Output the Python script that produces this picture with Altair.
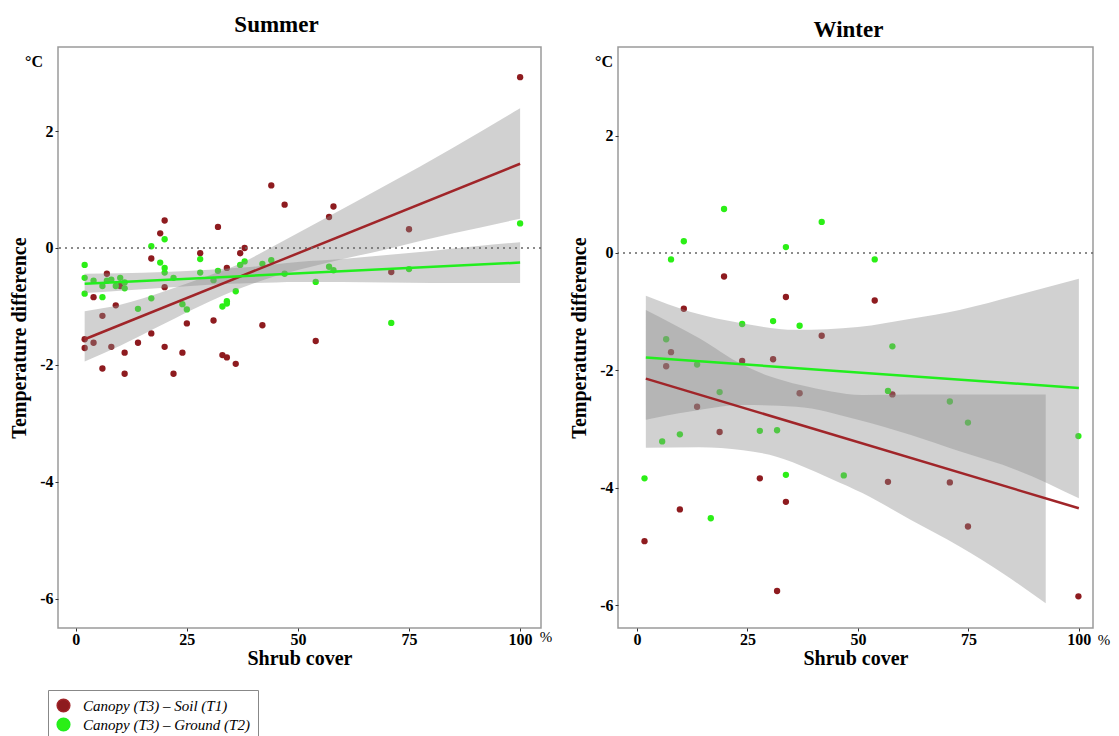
import altair as alt
import pandas as pd

SERIES = ["Canopy (T3) – Soil (T1)", "Canopy (T3) – Ground (T2)"]
POINT_COLORS = ["#8e1b1f", "#2bef16"]
LINE_COLORS = ["#a02529", "#22ee1e"]
X_TICKS = [0, 25, 50, 75, 100]
Y_TICKS = [-6, -4, -2, 0, 2]

# ---------------- Summer ----------------
sum_soil_x = [47, 44, 20, 19, 32, 28, 38, 37, 7, 34, 17, 20, 4, 10, 9, 6, 2, 2, 4, 8,
              6, 11, 11, 14, 17, 20, 22, 24, 25, 31, 33, 34, 36, 42, 54, 58, 57, 75, 71, 100]
sum_soil_y = [0.74, 1.07, 0.47, 0.25, 0.36, -0.09, 0.00, -0.09, -0.44, -0.34, -0.18, -0.67, -0.84,
              -0.65, -0.98, -1.16, -1.56, -1.71, -1.62, -1.69, -2.06, -1.79, -2.15, -1.62, -1.46,
              -1.69, -2.15, -1.79, -1.29, -1.24, -1.83, -1.87, -1.98, -1.32, -1.59, 0.71, 0.53,
              0.32, -0.41, 2.92]
sum_ground_x = [2, 2, 2, 4, 6, 6, 7, 8, 9, 10, 11, 11, 14, 17, 17, 19, 20, 20, 20, 22, 24, 25,
                28, 28, 31, 32, 33, 34, 34, 36, 37, 38, 42, 44, 47, 54, 57, 58, 71, 75, 100]
sum_ground_y = [-0.29, -0.51, -0.78, -0.56, -0.65, -0.84, -0.56, -0.54, -0.65, -0.51, -0.59, -0.69,
                -1.04, -0.86, 0.03, -0.25, 0.15, -0.34, -0.42, -0.51, -0.96, -1.05, -0.19, -0.42,
                -0.55, -0.39, -1.00, -0.91, -0.95, -0.74, -0.29, -0.23, -0.27, -0.21, -0.44, -0.58,
                -0.32, -0.38, -1.28, -0.36, 0.42]

sum_line_x = [2, 100]
sum_soil_line = [-1.56, 1.44]
sum_ground_line = [-0.61, -0.25]

sum_soil_rib_x = [2, 10, 20, 30, 36, 45, 55, 70, 85, 100]
sum_soil_rib_lo = [-1.94, -1.67, -1.29, -0.92, -0.72, -0.48, -0.28, -0.02, 0.25, 0.50]
sum_soil_rib_hi = [-1.08, -0.97, -0.74, -0.47, -0.30, 0.05, 0.46, 1.08, 1.72, 2.39]
sum_ground_rib_x = [2, 10, 20, 30, 40, 50, 60, 70, 80, 90, 100]
sum_ground_rib_lo = [-0.77, -0.73, -0.68, -0.63, -0.60, -0.58, -0.58, -0.59, -0.60, -0.60, -0.60]
sum_ground_rib_hi = [-0.44, -0.43, -0.41, -0.37, -0.32, -0.24, -0.19, -0.12, -0.05, 0.03, 0.10]

# ---------------- Winter ----------------
win_soil_x = [19.7, 33.7, 10.6, 41.8, 7.7, 6.6, 23.8, 30.8, 13.6, 36.8, 18.7, 27.8, 33.7, 9.7,
              1.7, 31.7, 53.8, 57.8, 56.8, 70.8, 74.9, 99.9]
win_soil_y = [-0.40, -0.75, -0.95, -1.41, -1.69, -1.93, -1.84, -1.81, -2.62, -2.39, -3.05, -3.84,
              -4.24, -4.37, -4.91, -5.76, -0.81, -2.41, -3.90, -3.91, -4.66, -5.85]
win_ground_x = [19.7, 10.6, 7.7, 33.7, 41.8, 23.8, 30.8, 36.8, 6.6, 13.6, 18.7, 9.7, 5.7, 27.8,
                31.7, 1.7, 33.7, 46.8, 16.7, 53.8, 57.8, 56.8, 70.8, 74.9, 99.9]
win_ground_y = [0.75, 0.20, -0.11, 0.10, 0.53, -1.21, -1.16, -1.24, -1.47, -1.90, -2.37, -3.09,
                -3.21, -3.03, -3.02, -3.84, -3.78, -3.79, -4.52, -0.11, -1.59, -2.35, -2.53,
                -2.89, -3.12]

win_line_x = [2, 100]
win_soil_line = [-2.14, -4.35]
win_ground_line = [-1.78, -2.30]

win_soil_rib_x = [2, 14, 24, 30, 37, 44, 51, 62, 73, 83, 92.5]
win_soil_rib_lo = [-3.32, -3.31, -3.36, -3.44, -3.62, -3.85, -4.09, -4.55, -5.00, -5.47, -5.97]
win_soil_rib_hi = [-0.97, -1.45, -1.91, -2.10, -2.25, -2.36, -2.42, -2.41, -2.41, -2.41, -2.41]
win_ground_rib_x = [2, 12, 24, 36, 50, 62, 73, 86, 100]
win_ground_rib_lo = [-2.84, -2.70, -2.59, -2.62, -2.84, -3.10, -3.38, -3.70, -4.18]
win_ground_rib_hi = [-0.73, -1.00, -1.20, -1.31, -1.26, -1.12, -0.97, -0.72, -0.44]

SERIF = "Liberation Serif"


def pts_df(sx, sy, gx, gy):
    return pd.concat([
        pd.DataFrame({"x": sx, "y": sy, "series": SERIES[0]}),
        pd.DataFrame({"x": gx, "y": gy, "series": SERIES[1]}),
    ])


def rib_df(sx, slo, shi, gx, glo, ghi):
    return pd.concat([
        pd.DataFrame({"x": sx, "lo": slo, "hi": shi, "series": SERIES[0]}),
        pd.DataFrame({"x": gx, "lo": glo, "hi": ghi, "series": SERIES[1]}),
    ])


def line_df(lx, sl, gl):
    return pd.concat([
        pd.DataFrame({"x": lx, "y": sl, "series": SERIES[0]}),
        pd.DataFrame({"x": lx, "y": gl, "series": SERIES[1]}),
    ])


def panel(title, toff, tdx, pts, ribs, lines, xdom, ydom, w, h, degc_xy, pct_xy):
    xs = alt.Scale(domain=xdom, nice=False, zero=False)
    ys = alt.Scale(domain=ydom, nice=False, zero=False)
    xax = alt.Axis(values=X_TICKS, title="Shrub cover")
    yax = alt.Axis(values=Y_TICKS, title="Temperature difference",
                   labelExpr="'' + datum.value")
    X = alt.X("x:Q", scale=xs, axis=xax)
    Y = alt.Y("y:Q", scale=ys, axis=yax)

    p = alt.Chart(pts).mark_circle(size=40, opacity=1).encode(
        x=X, y=Y,
        color=alt.Color("series:N", scale=alt.Scale(domain=SERIES, range=POINT_COLORS),
                        legend=alt.Legend(title=None, orient="none", legendX=-10, legendY=643,
                                          direction="vertical", labelLimit=400)),
    )
    r = alt.Chart(ribs).mark_area(color="#8c8c8c", opacity=0.4, interpolate="monotone").encode(
        x=X, y=alt.Y("lo:Q", scale=ys, axis=yax), y2="hi:Q", detail="series:N"
    )
    l = alt.Chart(lines).mark_line(strokeWidth=2.5).encode(
        x=X, y=Y,
        stroke=alt.Stroke("series:N", scale=alt.Scale(domain=SERIES, range=LINE_COLORS),
                          legend=None),
    )
    z = alt.Chart(pd.DataFrame({"y": [0]})).mark_rule(
        strokeDash=[2, 4], color="#666666", strokeWidth=1.5
    ).encode(y=alt.Y("y:Q", scale=ys, axis=yax))
    dc = alt.Chart(pd.DataFrame({"t": ["°C"]})).mark_text(
        font=SERIF, fontSize=16, fontWeight="bold", align="center", baseline="middle", color="black"
    ).encode(x=alt.value(degc_xy[0]), y=alt.value(degc_xy[1]), text="t:N")
    pc = alt.Chart(pd.DataFrame({"t": ["%"]})).mark_text(
        font=SERIF, fontSize=15, align="center", baseline="middle", color="black"
    ).encode(x=alt.value(pct_xy[0]), y=alt.value(pct_xy[1]), text="t:N")
    return alt.layer(p, r, l, z, dc, pc).properties(
        width=w, height=h,
        title=alt.TitleParams(title, font=SERIF, fontSize=23, fontWeight="bold",
                              color="black", offset=toff, anchor="middle", dx=tdx),
    )


W1, W2, H = 483, 475, 581
summer = panel(
    "Summer", 10, -23,
    pts_df(sum_soil_x, sum_soil_y, sum_ground_x, sum_ground_y),
    rib_df(sum_soil_rib_x, sum_soil_rib_lo, sum_soil_rib_hi,
           sum_ground_rib_x, sum_ground_rib_lo, sum_ground_rib_hi),
    line_df(sum_line_x, sum_soil_line, sum_ground_line),
    [-4.0, 104.7], [-6.496, 3.436], W1, H, (-24, 15), (W1 + 5, H + 9),
)
winter = panel(
    "Winter", 5, -7,
    pts_df(win_soil_x, win_soil_y, win_ground_x, win_ground_y),
    rib_df(win_soil_rib_x, win_soil_rib_lo, win_soil_rib_hi,
           win_ground_rib_x, win_ground_rib_lo, win_ground_rib_hi),
    line_df(win_line_x, win_soil_line, win_ground_line),
    [-4.3, 103.2], [-6.39, 3.51], W2, H, (-14, 15), (W2 + 11, H + 12),
)

chart = alt.hconcat(summer, winter, spacing=15).resolve_scale(
    x="independent", y="independent", color="shared", stroke="shared"
).properties(
    padding={"left": 0, "right": 0, "top": 5, "bottom": 0}
).configure_view(
    stroke="#9a9a9a", strokeWidth=1.5
).configure_axis(
    grid=False, domain=False, tickColor="#333333", tickSize=3, tickWidth=1,
    labelFont=SERIF, labelFontSize=16, labelFontWeight="bold", labelColor="black",
    titleFont=SERIF, titleFontSize=20, titleFontWeight="bold",
    titleColor="black",
).configure_axisX(
    labelPadding=0, titlePadding=1
).configure_axisY(
    labelPadding=2, titlePadding=10
).configure_legend(
    strokeColor="#888888", padding=8, symbolType="circle", symbolSize=160,
    symbolStrokeColor="#3d5a8a", symbolStrokeWidth=1.5, labelFont=SERIF,
    labelFontStyle="italic", labelFontSize=15, labelColor="black", rowPadding=0,
    labelOffset=12, symbolOpacity=1, labelLimit=400,
)

chart.save("out.html", embed_options={"renderer": "svg", "actions": False})
